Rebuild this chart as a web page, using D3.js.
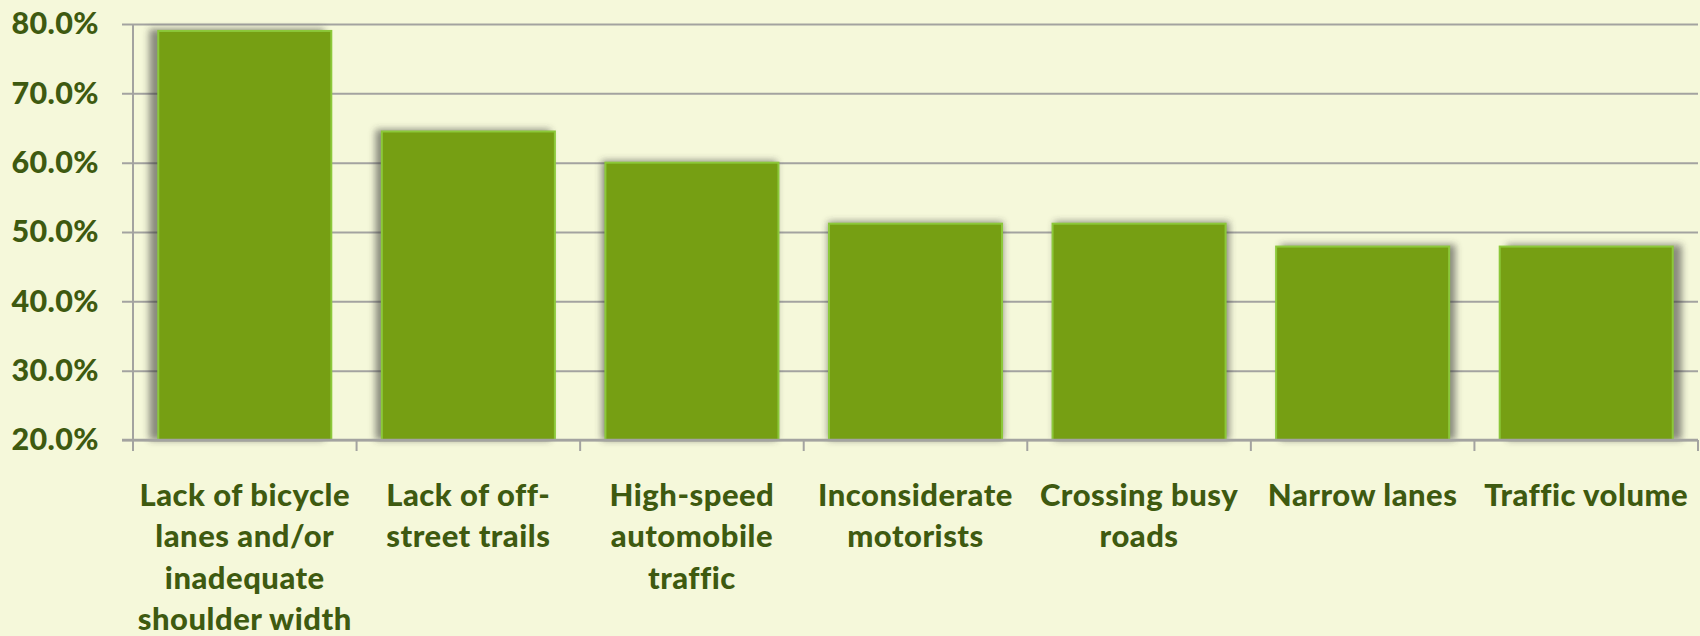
<!DOCTYPE html>
<html>
<head>
<meta charset="utf-8">
<script src="https://cdn.jsdelivr.net/npm/d3@7"></script>
<style>
  html, body { margin: 0; padding: 0; background: #f5f8da; }
  svg { display: block; }
</style>
</head>
<body>
<svg id="chart" width="1700" height="636"></svg>
<script>
const categories = [
  'Lack of bicycle lanes and/or inadequate shoulder width',
  'Lack of off-street trails',
  'High-speed automobile traffic',
  'Inconsiderate motorists',
  'Crossing busy roads',
  'Narrow lanes',
  'Traffic volume'
];
const categoryLines = [
  ['Lack of bicycle', 'lanes and/or', 'inadequate', 'shoulder width'],
  ['Lack of off-', 'street trails'],
  ['High-speed', 'automobile', 'traffic'],
  ['Inconsiderate', 'motorists'],
  ['Crossing busy', 'roads'],
  ['Narrow lanes'],
  ['Traffic volume']
];
const values = [79.0, 64.5, 60.0, 51.2, 51.2, 47.9, 47.9];
const yTicks = [20, 30, 40, 50, 60, 70, 80];

const width = 1700, height = 636;
const margin = { top: 24, right: 2, bottom: 196, left: 133 };
const chartWidth = width - margin.left - margin.right;
const chartHeight = height - margin.top - margin.bottom;

const bgColor = '#f5f8da';
const textColor = '#3e5a10';
const gridColor = '#a3a3a0';
const barColor = '#769f13';
const barStroke = '#8cc83a';
const fontFamily = 'Lato, "Open Sans", sans-serif';

const svg = d3.select('#chart');
svg.append('rect').attr('width', width).attr('height', height).attr('fill', bgColor);

// blur for the bar shadows
svg.append('defs').append('filter')
  .attr('id', 'shadowBlur')
  .attr('x', '-20%').attr('y', '-20%')
  .attr('width', '140%').attr('height', '140%')
  .append('feGaussianBlur')
  .attr('stdDeviation', 3.5);

const g = svg.append('g').attr('transform', `translate(${margin.left},${margin.top})`);

const x = d3.scaleBand()
  .domain(categories)
  .range([0, chartWidth])
  .paddingInner(0.226)
  .paddingOuter(0.113);

const y = d3.scaleLinear()
  .domain([20, 80])
  .range([chartHeight, 0]);

// gridlines + y axis labels
const yAxis = g.append('g')
  .attr('class', 'axis axis--y')
  .call(d3.axisLeft(y)
    .tickValues(yTicks)
    .tickSize(-chartWidth)
    .tickSizeOuter(0)
    .tickPadding(34)
    .tickFormat(d => d3.format('.1f')(d) + '%'));
yAxis.select('.domain').remove();
yAxis.selectAll('line')
  .attr('x1', -11)
  .attr('stroke', gridColor)
  .attr('stroke-width', 2);
yAxis.selectAll('text')
  .attr('fill', textColor)
  .style('font-family', fontFamily)
  .style('font-size', '30.5px')
  .style('font-weight', 900)
  .style('letter-spacing', '0.4px');

// shadows, pushed outwards from the middle of the plot
const midX = chartWidth / 2;
g.append('g')
  .selectAll('rect')
  .data(values)
  .enter().append('rect')
  .attr('x', (d, i) => x(categories[i]) + (x(categories[i]) + x.bandwidth() / 2 - midX) * 0.012 - 1)
  .attr('y', d => y(d) - 2)
  .attr('width', x.bandwidth() + 2)
  .attr('height', d => chartHeight - y(d) + 2)
  .attr('fill', '#303030')
  .attr('opacity', 0.55)
  .attr('filter', 'url(#shadowBlur)');

// bars
g.append('g')
  .selectAll('rect')
  .data(values)
  .enter().append('rect')
  .attr('x', (d, i) => x(categories[i]))
  .attr('y', d => y(d))
  .attr('width', x.bandwidth())
  .attr('height', d => chartHeight - y(d))
  .attr('fill', barColor)
  .attr('stroke', barStroke)
  .attr('stroke-width', 2);

// y axis line
g.append('line')
  .attr('x1', 0).attr('x2', 0)
  .attr('y1', 0).attr('y2', chartHeight + 11)
  .attr('stroke', gridColor)
  .attr('stroke-width', 2);

// x axis line and category boundary ticks
const bounds = d3.range(categories.length + 1).map(i => i * x.step());
g.append('line')
  .attr('x1', -11).attr('x2', chartWidth)
  .attr('y1', chartHeight).attr('y2', chartHeight)
  .attr('stroke', gridColor)
  .attr('stroke-width', 2.5);
g.append('g')
  .selectAll('line')
  .data(bounds)
  .enter().append('line')
  .attr('x1', d => d).attr('x2', d => d)
  .attr('y1', chartHeight).attr('y2', chartHeight + 11)
  .attr('stroke', gridColor)
  .attr('stroke-width', 2);

// category labels
const labels = g.append('g')
  .selectAll('text')
  .data(categories)
  .enter().append('text')
  .attr('x', d => x(d) + x.bandwidth() / 2)
  .attr('y', chartHeight + 66)
  .attr('text-anchor', 'middle')
  .attr('fill', textColor)
  .style('font-family', fontFamily)
  .style('font-size', '31px')
  .style('font-weight', 900)
  .style('letter-spacing', '0.5px');

labels.selectAll('tspan')
  .data((d, i) => categoryLines[i])
  .enter().append('tspan')
  .attr('x', function () { return this.parentNode.getAttribute('x'); })
  .attr('dy', (d, i) => i === 0 ? 0 : 41.3)
  .text(d => d);
</script>
</body>
</html>
